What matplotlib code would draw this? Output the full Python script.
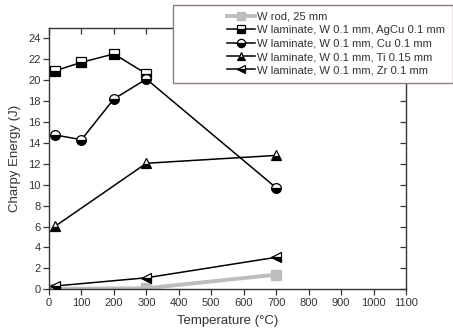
import matplotlib
matplotlib.use("Agg")
import matplotlib.pyplot as plt
from matplotlib.patches import Rectangle

plt.rcParams['font.family'] = ['Liberation Sans', 'DejaVu Sans']

# Test temperatures (°C) and Charpy impact energies (J)
t_rod = [20, 300, 700]
e_rod = [0.05, 0.1, 1.4]

t_agcu = [20, 100, 200, 300]
e_agcu = [20.9, 21.7, 22.5, 20.6]

t_cu = [20, 100, 200, 300, 700]
e_cu = [14.75, 14.3, 18.2, 20.1, 9.7]

t_ti = [20, 300, 700]
e_ti = [6.05, 12.05, 12.8]

t_zr = [20, 300, 700]
e_zr = [0.32, 1.1, 3.06]

labels = [
    "W rod, 25 mm",
    "W laminate, W 0.1 mm, AgCu 0.1 mm",
    "W laminate, W 0.1 mm, Cu 0.1 mm",
    "W laminate, W 0.1 mm, Ti 0.15 mm",
    "W laminate, W 0.1 mm, Zr 0.1 mm",
]
x_ticks = list(range(0, 1101, 100))
y_ticks = list(range(0, 25, 2))

W, H = 453, 334
fig = plt.figure(figsize=(W / 100, H / 100), dpi=100)
rect = [49 / W, 1 - 289.3 / H, (406 - 49) / W, (289.3 - 27.8) / H]
ax = fig.add_axes(rect)

axis_col = "#3a3434"
text_col = "#333333"

half = dict(color="black", lw=1.1, ms=7, mec="black", mew=0.9,
            fillstyle="bottom", mfc="black", mfcalt="white")

ax.plot(t_rod, e_rod, color="#bdbdbd", lw=2.8, marker="s", ms=7,
        mec="#bdbdbd", mfc="#bdbdbd", label=labels[0], zorder=2)
ax.plot(t_agcu, e_agcu, marker="s", label=labels[1], zorder=3, **half)
ax.plot(t_cu, e_cu, marker="o", label=labels[2], zorder=4, **half)
ax.plot(t_ti, e_ti, marker="^", label=labels[3], zorder=3, **half)
ax.plot(t_zr, e_zr, marker="<", label=labels[4], zorder=3, **half)

ax.set_xlim(0, 1100)
ax.set_ylim(0, 25)
ax.set_xticks(x_ticks)
ax.set_yticks(y_ticks)
ax.tick_params(direction="out", length=4, width=0.9, color=axis_col,
               labelsize=8, labelcolor=text_col, pad=2)
for s in ax.spines.values():
    s.set_color(axis_col)
    s.set_linewidth(1.0)

# mirrored ticks on top and right pointing inward
tx = ax.twiny()
tx.set_xlim(ax.get_xlim())
tx.set_xticks(x_ticks)
tx.tick_params(direction="in", length=4, width=0.9, color=axis_col,
               labeltop=False, top=True)
ty = ax.twinx()
ty.set_ylim(ax.get_ylim())
ty.set_yticks(y_ticks)
ty.tick_params(direction="in", length=4, width=0.9, color=axis_col,
               labelright=False, right=True)
for t in (tx, ty):
    for s in t.spines.values():
        s.set_visible(False)

ax.set_xlabel("Temperature (°C)", fontsize=9.5, color=text_col, labelpad=5)
ax.set_ylabel("Charpy Energy (J)", fontsize=9.5, color=text_col, labelpad=5)

# legend box
box = Rectangle((173 / W, 1 - 82.7 / H), (452.5 - 173) / W, (82.7 - 5) / H,
                transform=fig.transFigure, facecolor="white",
                edgecolor="#8a7f7a", lw=1.0, zorder=10)
fig.add_artist(box)
leg = fig.legend(handles=ax.get_lines(), loc="upper left",
                 bbox_to_anchor=(219 / W, 1 - 4 / H),
                 frameon=False, fontsize=8.1, handlelength=2.5,
                 handletextpad=0.15, labelspacing=0.3, borderpad=0.2,
                 markerscale=0.85, labelcolor=text_col)
leg.set_zorder(11)

fig.savefig("out.png", dpi=100)
